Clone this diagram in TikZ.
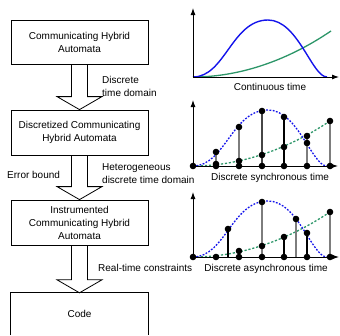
\documentclass[tikz,border=0pt]{standalone}
\usepackage{fontspec}
\setmainfont{Liberation Sans}
\usetikzlibrary{arrows.meta,calc,backgrounds}
\definecolor{cblue}{RGB}{20,20,235}
\definecolor{cgreen}{RGB}{45,150,105}
\definecolor{stemgray}{RGB}{125,125,125}
\definecolor{stemdark}{RGB}{70,70,70}
\begin{document}
\begin{tikzpicture}[x=1pt,y=-1pt, font=\fontsize{10}{13}\selectfont,
 box/.style={draw, line width=0.8pt, minimum width=137pt, minimum height=44pt, align=center, inner sep=0},
 blk/.style={draw, fill=white, line width=0.8pt, line join=miter},
 lbl/.style={inner sep=0, align=left},
 ttl/.style={inner sep=0},
 ax/.style={line width=0.9pt, -{Latex[length=7pt,width=5pt]}},
 bcurve/.style={cblue, line width=1.4pt},
 gcurve/.style={cgreen, line width=1.3pt},
 bdash/.style={cblue, line width=1.3pt, dash pattern=on 1.8pt off 1.5pt},
 gdash/.style={cgreen, line width=1.3pt, dash pattern=on 2.2pt off 1.8pt},
 stemk/.style={line width=1.2pt, black},
 stemd/.style={line width=1.3pt, stemdark},
 stemg/.style={line width=1.4pt, stemgray},
]
\useasboundingbox (0,0) rectangle (340,335);

% ---- left column ----
\node[box] (b1) at (79.5,42) {Communicating Hybrid\\Automata};
\node[box, minimum height=45pt] (b2) at (79.5,132.5) {Discretized Communicating\\Hybrid Automata};
\node[box, minimum height=45pt] (b3) at (79.5,222.5) {Instrumented\\Communicating Hybrid\\Automata};
\node[inner sep=0, minimum width=137pt, minimum height=42pt] (b4) at (79.5,314) {Code};
\draw[line width=0.8pt] (b4.south west) -- (b4.north west) -- (b4.north east) -- (b4.south east);

\begin{pgfonlayer}{background}
\draw[blk] ([xshift=-8pt]b1.south) -- ($(b2.north)+(-8,-13)$) -- ($(b2.north)+(-22.5,-13)$) -- (b2.north) -- ($(b2.north)+(22.5,-13)$) -- ($(b2.north)+(8,-13)$) -- ([xshift=8pt]b1.south);
\draw[blk] ([xshift=-8pt]b2.south) -- ($(b3.north)+(-8,-13)$) -- ($(b3.north)+(-22.5,-13)$) -- (b3.north) -- ($(b3.north)+(22.5,-13)$) -- ($(b3.north)+(8,-13)$) -- ([xshift=8pt]b2.south);
\draw[blk] ([xshift=-8pt]b3.south) -- ($(b4.north)+(-8,-13)$) -- ($(b4.north)+(-22.5,-13)$) -- (b4.north) -- ($(b4.north)+(22.5,-13)$) -- ($(b4.north)+(8,-13)$) -- ([xshift=8pt]b3.south);
\end{pgfonlayer}

\node[lbl, anchor=west] (l1) at (102,86) {Discrete\\time domain};
\node[lbl, anchor=west] (l2) at (102,174) {Heterogeneous\\discrete time domain};
\node[lbl, anchor=west] (l3) at (7,175) {Error bound};
\node[lbl, anchor=west] (l4) at (98,268) {Real-time constraints};

% ---- graph 1 ----
\coordinate (o1) at (193,77);
\begin{scope}[shift={(o1)}]
\draw[gcurve] (0,0) parabola (138,-46);
\draw[bcurve] (0,0) .. controls (32,0) and (39,-57) .. (75,-57) .. controls (105,-57) and (119,0) .. (134,0);
\end{scope}
\draw[ax] (o1) -- (193,8);
\draw[ax] (o1) -- (339,77);
\node[ttl] (t1) at (270,87) {Continuous time};

% ---- graph 2 ----
\coordinate (o2) at (193,166);
\begin{scope}[shift={(o2)}]
\draw[gdash] (0,0) parabola (137,-45);
\draw[bdash] (0,0) .. controls (32,0) and (39,-56) .. (75,-56) .. controls (105,-56) and (119,0) .. (134,0);
\end{scope}
\draw[stemg] (216,166) -- (216,152);
\draw[stemg] (239,166) -- (239,127);
\draw[stemd] (262,166) -- (262,111);
\draw[stemk] (284,166) -- (284,117);
\draw[stemg] (307,166) -- (307,137);
\draw[stemg] (330,166) -- (330,121);
\draw[ax] (o2) -- (193,100);
\draw[ax] (o2) -- (338,166);
\foreach \x in {193,216,239,262,284,307,330} \fill (\x,166) circle (3.3pt);
\foreach \p in {(216,152),(216,164),(239,127),(239,161),(262,111),(262,155),(284,117),(284,147),(307,143),(307,136),(330,121)} \fill \p circle (3.3pt);
\node[ttl] (t2) at (270,178) {Discrete synchronous time};

% ---- graph 3 ----
\coordinate (o3) at (193,257);
\begin{scope}[shift={(o3)}]
\draw[gdash] (0,0) parabola (137,-45);
\draw[bdash] (0,0) .. controls (32,0) and (39,-56) .. (75,-56) .. controls (105,-56) and (119,0) .. (134,0);
\end{scope}
\draw[stemk] (228,257) -- (228,229);
\draw[stemk] (239,257) -- (239,251);
\draw[stemg] (262,257) -- (262,202);
\draw[stemk] (284,257) -- (284,237);
\draw[stemg] (296,257) -- (296,219);
\draw[stemk] (307,257) -- (307,233);
\draw[stemg] (330,257) -- (330,212);
\draw[ax] (o3) -- (193,192);
\draw[ax] (o3) -- (339,257);
\foreach \x in {193,216,239,262,284,307,330} \fill (\x,257) circle (3.3pt);
\foreach \p in {(228,229),(239,251),(262,202),(262,246),(284,237),(296,219),(307,233),(330,212)} \fill \p circle (3.3pt);
\node[ttl] (t3) at (266,269) {Discrete asynchronous time};
\end{tikzpicture}
\end{document}
